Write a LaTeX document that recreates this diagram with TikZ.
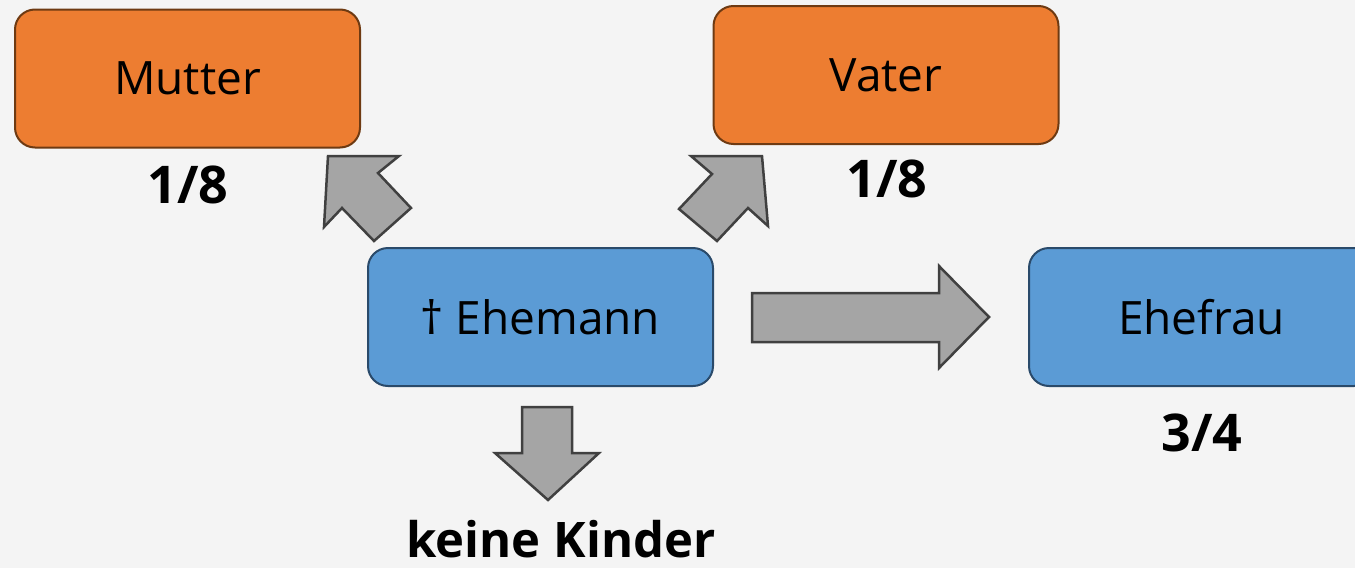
\documentclass[tikz,border=0pt]{standalone}
\usepackage{fontspec}
\setmainfont{Open Sans}
\definecolor{bg}{HTML}{F4F4F4}
\definecolor{orangefill}{HTML}{ED7D31}
\definecolor{orangeline}{HTML}{6E3A12}
\definecolor{bluefill}{HTML}{5B9BD5}
\definecolor{blueline}{HTML}{2A4A6A}
\definecolor{arrowfill}{HTML}{A5A5A5}
\definecolor{arrowline}{HTML}{404040}

\begin{document}
\begin{tikzpicture}[x=1pt,y=-1pt,
  box/.style={rectangle, rounded corners=20pt, minimum width=345pt,
    minimum height=138pt, line width=2pt, inner sep=0pt,
    font=\fontsize{46}{50}\selectfont},
  parent/.style={box, fill=orangefill, draw=orangeline},
  spouse/.style={box, fill=bluefill, draw=blueline},
  share/.style={inner sep=0pt, font=\fontsize{52}{56}\selectfont\bfseries},
  note/.style={inner sep=0pt, font=\fontsize{49}{53}\selectfont\bfseries},
  blockarrow/.style={fill=arrowfill, draw=arrowline, line width=2.5pt, line join=miter}]

  % canvas
  \useasboundingbox (0,0) rectangle (1355,568);
  \clip (0,0) rectangle (1355,568);
  \fill[bg] (0,0) rectangle (1355,568);

  % persons
  \node[parent] (mutter)  at (187.5,78.5) {Mutter};
  \node[parent] (vater)   at (886,75)     {Vater};
  \node[spouse] (ehemann) at (540.5,317)  {† Ehemann};
  \node[spouse] (ehefrau) at (1201.5,317) {Ehefrau};

  % shares
  \node[share] (smutter) at (188,185)  {1/8};
  \node[share] (svater)  at (887,179)  {1/8};
  \node[share] (sfrau)   at (1202,433) {3/4};
  \node[note]  (kinder)  at (561,539)  {keine Kinder};

  % block arrows from the deceased
  \draw[blockarrow] (328,156) -- (399,156) -- (378,173) -- (411,208)
    -- (374,241) -- (342,208) -- (324,227) -- cycle;
  \draw[blockarrow] (762,156) -- (768,226) -- (748,208) -- (717,241)
    -- (679,209) -- (712,174) -- (691,156) -- cycle;
  \draw[blockarrow] (752,293) -- (939,293) -- (939,266) -- (989,317)
    -- (939,368) -- (939,342) -- (752,342) -- cycle;
  \draw[blockarrow] (522,407) -- (572,407) -- (572,453) -- (599,453)
    -- (548,500) -- (495,453) -- (522,453) -- cycle;
\end{tikzpicture}
\end{document}
